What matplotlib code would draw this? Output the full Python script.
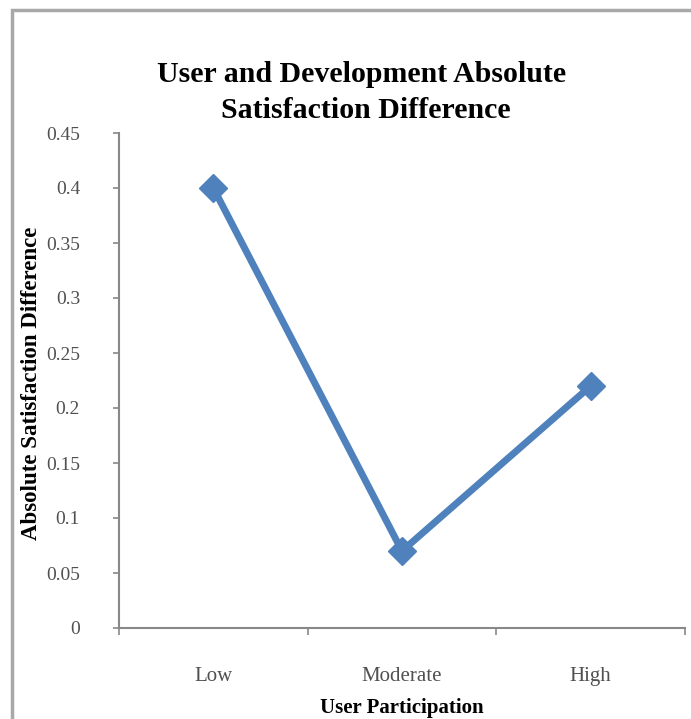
import matplotlib
matplotlib.use("Agg")
import matplotlib.pyplot as plt
from matplotlib.patches import Rectangle

categories = ["Low", "Moderate", "High"]
values = [0.4, 0.07, 0.22]
yticks = [0, 0.05, 0.1, 0.15, 0.2, 0.25, 0.3, 0.35, 0.4, 0.45]
ytick_labels = ["0", "0.05", "0.1", "0.15", "0.2", "0.25", "0.3", "0.35", "0.4", "0.45"]

plt.rcParams['font.family'] = ['Liberation Serif', 'DejaVu Serif']

fig = plt.figure(figsize=(6.91, 7.19), dpi=100)
fig.patches.append(Rectangle((12/691, -0.1), 1.0, 1 - 10/719 + 0.1, transform=fig.transFigure,
                             fill=False, edgecolor='#a8a8a8', linewidth=2.5, zorder=0))

ax = fig.add_axes([119/691, 1 - 628/719, (685 - 119)/691, (628 - 133)/719])
x = list(range(len(categories)))
ax.plot(x, values, color='#4F81BD', linewidth=5, marker='D', markersize=14, solid_capstyle='round')
ax.set_xlim(-0.5, len(categories) - 0.5)
ax.set_ylim(0, 0.45)
ax.set_yticks(yticks)
ax.set_yticklabels(ytick_labels)
ax.set_xticks(x)
ax.set_xticklabels(categories)
ax.set_xticks([i - 0.5 for i in range(len(categories) + 1)], minor=True)
ax.tick_params(axis='x', which='major', length=0, pad=28, labelsize=15, labelcolor='#505050')
ax.tick_params(axis='x', which='minor', length=5, direction='out', color='#888888', width=1.2)
ax.tick_params(axis='y', length=4, direction='out', color='#888888', width=1.2, labelsize=14,
               labelcolor='#505050', pad=24)
for s in ['top', 'right']:
    ax.spines[s].set_visible(False)
for s in ['left', 'bottom']:
    ax.spines[s].set_color('#888888')
    ax.spines[s].set_linewidth(1.5)

ax.set_xlabel("User Participation", fontsize=15, fontweight='bold', labelpad=9)
ax.set_ylabel("Absolute Satisfaction Difference", fontsize=16.5, fontweight='bold', labelpad=0)
ax.yaxis.set_label_coords(42/691, 1 - 383/719, transform=fig.transFigure)

fig.text(362/691, 1 - 82/719, "User and Development Absolute", ha='center', va='baseline',
         fontsize=21.5, fontweight='bold')
fig.text(366/691, 1 - 118/719, "Satisfaction Difference", ha='center', va='baseline',
         fontsize=21.5, fontweight='bold')

fig.savefig("out.png", dpi=100)
